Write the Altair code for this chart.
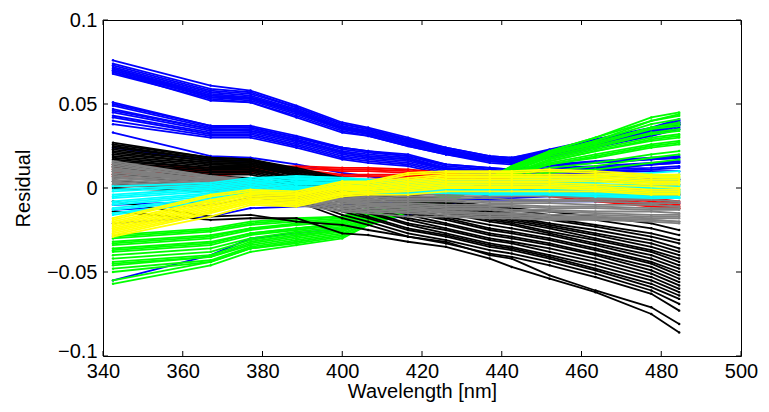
import altair as alt
import pandas as pd

# wavelengths (nm) of the residual points
W = [342.5, 367.0, 377.0, 388.5, 400.0, 406.5, 416.5, 426.0, 437.0, 442.5, 452.0, 463.5, 477.5, 484.5]

BLUE = [
    [0.076, 0.061, 0.058, 0.049, 0.039, 0.036, 0.030, 0.024, 0.019, 0.018, 0.023, 0.029, 0.036, 0.041],
    [0.074, 0.059, 0.057, 0.048, 0.038, 0.035, 0.029, 0.024, 0.019, 0.018, 0.022, 0.029, 0.035, 0.040],
    [0.073, 0.058, 0.056, 0.048, 0.038, 0.035, 0.029, 0.023, 0.018, 0.017, 0.022, 0.028, 0.035, 0.040],
    [0.072, 0.057, 0.055, 0.047, 0.037, 0.034, 0.028, 0.023, 0.018, 0.017, 0.021, 0.028, 0.034, 0.039],
    [0.071, 0.056, 0.054, 0.046, 0.036, 0.034, 0.028, 0.022, 0.017, 0.016, 0.021, 0.027, 0.034, 0.039],
    [0.071, 0.055, 0.054, 0.046, 0.036, 0.033, 0.027, 0.022, 0.017, 0.016, 0.020, 0.027, 0.033, 0.038],
    [0.070, 0.055, 0.053, 0.045, 0.036, 0.033, 0.027, 0.022, 0.017, 0.016, 0.020, 0.027, 0.033, 0.038],
    [0.070, 0.054, 0.053, 0.045, 0.035, 0.032, 0.026, 0.021, 0.016, 0.015, 0.020, 0.026, 0.033, 0.038],
    [0.069, 0.054, 0.052, 0.044, 0.035, 0.032, 0.026, 0.021, 0.016, 0.015, 0.019, 0.026, 0.032, 0.037],
    [0.068, 0.053, 0.051, 0.043, 0.034, 0.031, 0.025, 0.020, 0.015, 0.014, 0.019, 0.025, 0.031, 0.036],
    [0.069, 0.052, 0.051, 0.042, 0.033, 0.031, 0.025, 0.020, 0.016, 0.015, 0.018, 0.024, 0.031, 0.035],
    [0.051, 0.037, 0.037, 0.031, 0.024, 0.022, 0.020, 0.014, 0.012, 0.011, 0.014, 0.016, 0.018, 0.019],
    [0.050, 0.037, 0.036, 0.030, 0.024, 0.022, 0.019, 0.014, 0.012, 0.011, 0.014, 0.015, 0.017, 0.018],
    [0.049, 0.036, 0.036, 0.030, 0.023, 0.021, 0.019, 0.013, 0.011, 0.010, 0.013, 0.015, 0.017, 0.018],
    [0.047, 0.035, 0.035, 0.029, 0.022, 0.020, 0.018, 0.012, 0.010, 0.009, 0.012, 0.013, 0.015, 0.016],
    [0.046, 0.035, 0.034, 0.028, 0.021, 0.019, 0.017, 0.012, 0.010, 0.009, 0.011, 0.012, 0.014, 0.015],
    [0.045, 0.034, 0.034, 0.028, 0.021, 0.019, 0.017, 0.011, 0.009, 0.008, 0.011, 0.012, 0.014, 0.015],
    [0.043, 0.033, 0.033, 0.027, 0.020, 0.018, 0.016, 0.011, 0.009, 0.008, 0.010, 0.011, 0.012, 0.013],
    [0.042, 0.032, 0.032, 0.026, 0.019, 0.017, 0.015, 0.010, 0.008, 0.007, 0.009, 0.010, 0.011, 0.012],
    [0.040, 0.031, 0.031, 0.025, 0.018, 0.016, 0.014, 0.009, 0.007, 0.006, 0.008, 0.009, 0.010, 0.010],
    [0.038, 0.030, 0.030, 0.024, 0.017, 0.015, 0.013, 0.008, 0.006, 0.005, 0.007, 0.007, 0.006, 0.005],
    [0.033, 0.019, 0.018, 0.014, 0.009, 0.007, 0.004, 0.003, 0.002, 0.002, 0.003, 0.004, 0.005, 0.005],
    [0.024, 0.016, 0.016, 0.011, 0.006, 0.004, 0.001, 0.000, -0.001, -0.001, 0.000, 0.001, 0.002, 0.002],
    [-0.010, -0.008, -0.004, -0.002, -0.002, -0.003, -0.003, -0.003, -0.003, -0.003, -0.003, -0.003, -0.004, -0.004],
    [-0.013, -0.010, -0.006, -0.004, -0.004, -0.005, -0.006, -0.006, -0.007, -0.007, -0.008, -0.008, -0.009, -0.009],
    [-0.021, -0.017, -0.012, -0.011, -0.010, -0.009, -0.008, -0.007, -0.006, -0.006, -0.005, -0.005, -0.004, -0.004],
    [-0.055, -0.040, -0.030, -0.027, -0.024, -0.021, -0.016, -0.010, -0.004, 0.000, 0.005, 0.010, 0.014, 0.016],
]

GREEN = [
    [-0.028, -0.024, -0.020, -0.018, -0.017, -0.012, -0.008, -0.004, 0.001, 0.004, 0.009, 0.011, 0.015, 0.017],
    [-0.029, -0.025, -0.021, -0.019, -0.017, -0.012, -0.008, -0.004, 0.002, 0.005, 0.010, 0.013, 0.018, 0.020],
    [-0.030, -0.026, -0.022, -0.020, -0.018, -0.013, -0.009, -0.005, 0.002, 0.006, 0.012, 0.015, 0.020, 0.022],
    [-0.032, -0.028, -0.024, -0.021, -0.019, -0.014, -0.009, -0.005, 0.003, 0.007, 0.014, 0.018, 0.024, 0.026],
    [-0.033, -0.029, -0.024, -0.022, -0.020, -0.014, -0.010, -0.005, 0.003, 0.008, 0.014, 0.019, 0.025, 0.027],
    [-0.034, -0.030, -0.025, -0.022, -0.020, -0.015, -0.010, -0.006, 0.003, 0.008, 0.015, 0.020, 0.026, 0.028],
    [-0.036, -0.032, -0.027, -0.024, -0.021, -0.016, -0.011, -0.006, 0.004, 0.009, 0.016, 0.022, 0.028, 0.030],
    [-0.037, -0.033, -0.027, -0.024, -0.021, -0.016, -0.011, -0.006, 0.004, 0.009, 0.016, 0.022, 0.029, 0.031],
    [-0.038, -0.034, -0.028, -0.025, -0.022, -0.017, -0.012, -0.007, 0.004, 0.009, 0.017, 0.023, 0.030, 0.032],
    [-0.040, -0.036, -0.030, -0.026, -0.023, -0.018, -0.012, -0.007, 0.004, 0.010, 0.018, 0.024, 0.032, 0.034],
    [-0.042, -0.038, -0.031, -0.027, -0.024, -0.018, -0.013, -0.007, 0.005, 0.010, 0.019, 0.025, 0.033, 0.035],
    [-0.044, -0.040, -0.032, -0.028, -0.025, -0.019, -0.013, -0.008, 0.005, 0.011, 0.020, 0.026, 0.035, 0.037],
    [-0.045, -0.041, -0.033, -0.029, -0.025, -0.019, -0.013, -0.008, 0.005, 0.011, 0.020, 0.027, 0.036, 0.038],
    [-0.046, -0.041, -0.034, -0.030, -0.026, -0.020, -0.014, -0.008, 0.005, 0.011, 0.020, 0.027, 0.036, 0.039],
    [-0.048, -0.043, -0.035, -0.031, -0.027, -0.021, -0.014, -0.009, 0.006, 0.012, 0.021, 0.028, 0.038, 0.041],
    [-0.050, -0.044, -0.036, -0.032, -0.028, -0.021, -0.015, -0.009, 0.006, 0.013, 0.022, 0.030, 0.040, 0.043],
    [-0.055, -0.044, -0.036, -0.033, -0.029, -0.022, -0.015, -0.009, 0.006, 0.013, 0.022, 0.030, 0.042, 0.045],
    [-0.057, -0.046, -0.038, -0.034, -0.030, -0.022, -0.015, -0.010, 0.005, 0.012, 0.021, 0.028, 0.040, 0.044],
]

RED = [
    [0.014, 0.012, 0.012, 0.013, 0.012, 0.012, 0.011, 0.009, 0.006, 0.005, 0.000, -0.003, -0.006, -0.008],
    [0.012, 0.011, 0.011, 0.012, 0.011, 0.011, 0.010, 0.008, 0.005, 0.004, -0.001, -0.004, -0.007, -0.009],
    [0.011, 0.010, 0.010, 0.012, 0.010, 0.010, 0.009, 0.007, 0.004, 0.003, -0.002, -0.005, -0.008, -0.010],
    [0.009, 0.009, 0.010, 0.011, 0.008, 0.008, 0.008, 0.006, 0.003, 0.002, -0.003, -0.006, -0.009, -0.011],
    [0.008, 0.008, 0.009, 0.011, 0.007, 0.007, 0.007, 0.005, 0.002, 0.001, -0.004, -0.007, -0.010, -0.012],
    [0.007, 0.007, 0.009, 0.010, 0.005, 0.005, 0.006, 0.004, 0.001, 0.000, -0.005, -0.008, -0.011, -0.012],
]

BLACK = [
    [0.027, 0.018, 0.017, 0.012, 0.006, 0.003, -0.004, -0.007, -0.011, -0.012, -0.014, -0.017, -0.021, -0.025],
    [0.026, 0.018, 0.017, 0.011, 0.005, 0.002, -0.005, -0.008, -0.012, -0.013, -0.016, -0.019, -0.024, -0.028],
    [0.025, 0.017, 0.016, 0.011, 0.005, 0.002, -0.005, -0.009, -0.013, -0.015, -0.018, -0.022, -0.027, -0.031],
    [0.024, 0.017, 0.016, 0.010, 0.004, 0.001, -0.006, -0.009, -0.014, -0.016, -0.019, -0.023, -0.029, -0.033],
    [0.023, 0.016, 0.015, 0.010, 0.004, 0.001, -0.006, -0.010, -0.015, -0.017, -0.021, -0.025, -0.031, -0.036],
    [0.022, 0.016, 0.015, 0.009, 0.003, 0.000, -0.007, -0.011, -0.016, -0.018, -0.022, -0.027, -0.033, -0.038],
    [0.021, 0.015, 0.014, 0.009, 0.002, -0.001, -0.008, -0.012, -0.017, -0.019, -0.023, -0.028, -0.035, -0.040],
    [0.020, 0.015, 0.014, 0.008, 0.001, -0.002, -0.009, -0.013, -0.018, -0.020, -0.024, -0.030, -0.037, -0.042],
    [0.019, 0.014, 0.013, 0.008, 0.000, -0.003, -0.010, -0.014, -0.019, -0.021, -0.026, -0.031, -0.038, -0.044],
    [0.018, 0.013, 0.013, 0.007, -0.001, -0.004, -0.011, -0.015, -0.020, -0.022, -0.027, -0.033, -0.040, -0.046],
    [0.017, 0.012, 0.012, 0.006, -0.002, -0.006, -0.012, -0.017, -0.022, -0.024, -0.028, -0.034, -0.042, -0.048],
    [0.016, 0.012, 0.011, 0.006, -0.003, -0.007, -0.014, -0.018, -0.024, -0.026, -0.030, -0.036, -0.044, -0.050],
    [0.015, 0.011, 0.011, 0.005, -0.004, -0.008, -0.015, -0.019, -0.025, -0.027, -0.031, -0.037, -0.045, -0.052],
    [0.014, 0.010, 0.010, 0.004, -0.005, -0.009, -0.016, -0.021, -0.027, -0.029, -0.033, -0.039, -0.047, -0.054],
    [0.013, 0.009, 0.009, 0.003, -0.007, -0.011, -0.018, -0.022, -0.028, -0.030, -0.034, -0.040, -0.049, -0.056],
    [0.012, 0.008, 0.008, 0.002, -0.008, -0.012, -0.019, -0.024, -0.030, -0.032, -0.036, -0.042, -0.051, -0.058],
    [0.010, 0.007, 0.006, 0.001, -0.009, -0.014, -0.021, -0.025, -0.031, -0.033, -0.038, -0.044, -0.053, -0.060],
    [0.008, 0.005, 0.005, -0.001, -0.011, -0.015, -0.022, -0.027, -0.033, -0.035, -0.040, -0.046, -0.055, -0.062],
    [0.006, 0.004, 0.003, -0.002, -0.012, -0.017, -0.024, -0.028, -0.034, -0.036, -0.041, -0.048, -0.057, -0.064],
    [0.004, 0.002, 0.001, -0.004, -0.014, -0.018, -0.025, -0.029, -0.035, -0.037, -0.042, -0.049, -0.059, -0.066],
    [0.002, 0.000, -0.001, -0.006, -0.016, -0.020, -0.027, -0.031, -0.037, -0.039, -0.044, -0.051, -0.061, -0.069],
    [0.000, -0.002, -0.003, -0.008, -0.018, -0.022, -0.029, -0.033, -0.039, -0.041, -0.046, -0.053, -0.063, -0.073],
    [-0.014, -0.019, -0.018, -0.018, -0.027, -0.028, -0.032, -0.035, -0.042, -0.047, -0.054, -0.062, -0.075, -0.086],
    [-0.008, -0.017, -0.016, -0.020, -0.022, -0.025, -0.029, -0.032, -0.040, -0.042, -0.052, -0.061, -0.071, -0.081],
]

GRAY = [
    [0.016, 0.007, 0.005, 0.000, -0.003, -0.004, -0.002, -0.002, -0.002, -0.002, -0.002, -0.002, -0.001, -0.001],
    [0.015, 0.007, 0.005, -0.001, -0.004, -0.005, -0.003, -0.003, -0.003, -0.003, -0.003, -0.003, -0.003, -0.003],
    [0.014, 0.006, 0.004, -0.001, -0.004, -0.005, -0.004, -0.004, -0.004, -0.004, -0.004, -0.004, -0.004, -0.004],
    [0.013, 0.006, 0.004, -0.002, -0.005, -0.006, -0.005, -0.005, -0.005, -0.005, -0.005, -0.006, -0.006, -0.006],
    [0.012, 0.005, 0.003, -0.002, -0.006, -0.007, -0.006, -0.006, -0.006, -0.007, -0.007, -0.007, -0.007, -0.008],
    [0.011, 0.005, 0.003, -0.003, -0.006, -0.007, -0.007, -0.007, -0.008, -0.008, -0.008, -0.008, -0.009, -0.009],
    [0.010, 0.004, 0.002, -0.004, -0.007, -0.008, -0.008, -0.008, -0.009, -0.009, -0.009, -0.010, -0.010, -0.011],
    [0.009, 0.004, 0.001, -0.004, -0.008, -0.009, -0.009, -0.010, -0.010, -0.010, -0.011, -0.011, -0.012, -0.012],
    [0.008, 0.003, 0.001, -0.005, -0.008, -0.010, -0.010, -0.011, -0.011, -0.011, -0.012, -0.012, -0.013, -0.013],
    [0.007, 0.002, 0.000, -0.006, -0.009, -0.010, -0.011, -0.012, -0.012, -0.013, -0.013, -0.014, -0.014, -0.015],
    [0.006, 0.002, -0.001, -0.006, -0.010, -0.011, -0.012, -0.013, -0.013, -0.014, -0.014, -0.015, -0.016, -0.016],
    [0.005, 0.001, -0.002, -0.007, -0.011, -0.012, -0.013, -0.014, -0.015, -0.015, -0.016, -0.016, -0.017, -0.017],
    [0.004, 0.000, -0.003, -0.008, -0.012, -0.013, -0.014, -0.015, -0.016, -0.016, -0.017, -0.017, -0.018, -0.018],
    [0.003, -0.001, -0.004, -0.009, -0.013, -0.014, -0.015, -0.016, -0.017, -0.017, -0.018, -0.018, -0.019, -0.020],
    [0.002, -0.002, -0.005, -0.010, -0.014, -0.015, -0.017, -0.017, -0.018, -0.018, -0.019, -0.019, -0.020, -0.021],
    [0.011, 0.004, 0.002, -0.003, -0.007, -0.009, -0.012, -0.014, -0.015, -0.016, -0.017, -0.018, -0.019, -0.020],
]

CYAN = [
    [0.001, 0.003, 0.006, 0.007, 0.006, 0.005, 0.005, 0.005, 0.005, 0.005, 0.006, 0.007, 0.009, 0.010],
    [-0.001, 0.002, 0.005, 0.007, 0.006, 0.005, 0.004, 0.004, 0.004, 0.004, 0.005, 0.006, 0.007, 0.008],
    [-0.002, 0.001, 0.004, 0.006, 0.005, 0.004, 0.004, 0.004, 0.004, 0.004, 0.004, 0.004, 0.005, 0.006],
    [-0.004, 0.000, 0.003, 0.005, 0.005, 0.004, 0.003, 0.003, 0.003, 0.003, 0.003, 0.003, 0.004, 0.004],
    [-0.005, -0.001, 0.002, 0.005, 0.004, 0.003, 0.003, 0.003, 0.002, 0.002, 0.002, 0.002, 0.002, 0.002],
    [-0.006, -0.002, 0.001, 0.004, 0.003, 0.002, 0.002, 0.002, 0.002, 0.001, 0.001, 0.001, 0.001, 0.001],
    [-0.008, -0.003, 0.000, 0.003, 0.003, 0.002, 0.001, 0.001, 0.001, 0.001, 0.000, 0.000, 0.000, -0.001],
    [-0.009, -0.004, -0.001, 0.003, 0.002, 0.001, 0.001, 0.000, 0.000, 0.000, -0.001, -0.001, -0.002, -0.002],
    [-0.010, -0.005, -0.002, 0.002, 0.002, 0.000, 0.000, 0.000, -0.001, -0.001, -0.002, -0.002, -0.003, -0.003],
    [-0.012, -0.006, -0.002, 0.001, 0.001, 0.000, -0.001, -0.001, -0.002, -0.002, -0.003, -0.003, -0.004, -0.004],
    [-0.013, -0.007, -0.003, 0.001, 0.000, -0.001, -0.002, -0.002, -0.002, -0.003, -0.003, -0.004, -0.005, -0.005],
    [-0.015, -0.008, -0.004, 0.000, 0.000, -0.002, -0.002, -0.003, -0.003, -0.003, -0.004, -0.005, -0.005, -0.006],
    [-0.016, -0.008, -0.004, -0.001, -0.001, -0.003, -0.003, -0.003, -0.004, -0.004, -0.004, -0.005, -0.006, -0.006],
]

YELLOW = [
    [-0.018, -0.004, -0.001, -0.002, 0.004, 0.004, 0.009, 0.010, 0.010, 0.010, 0.011, 0.010, 0.008, 0.008],
    [-0.019, -0.005, -0.002, -0.003, 0.003, 0.003, 0.008, 0.009, 0.009, 0.009, 0.010, 0.009, 0.007, 0.007],
    [-0.020, -0.007, -0.003, -0.004, 0.002, 0.003, 0.006, 0.008, 0.008, 0.008, 0.008, 0.008, 0.006, 0.006],
    [-0.021, -0.008, -0.003, -0.004, 0.001, 0.002, 0.005, 0.007, 0.007, 0.007, 0.007, 0.007, 0.005, 0.005],
    [-0.022, -0.009, -0.004, -0.005, 0.001, 0.001, 0.004, 0.006, 0.006, 0.006, 0.006, 0.006, 0.004, 0.004],
    [-0.023, -0.010, -0.005, -0.006, 0.000, 0.000, 0.003, 0.005, 0.005, 0.005, 0.005, 0.005, 0.003, 0.003],
    [-0.024, -0.011, -0.006, -0.007, -0.001, -0.001, 0.002, 0.004, 0.004, 0.004, 0.004, 0.004, 0.002, 0.002],
    [-0.025, -0.012, -0.007, -0.008, -0.002, -0.001, 0.001, 0.003, 0.003, 0.003, 0.003, 0.002, 0.001, 0.000],
    [-0.026, -0.013, -0.008, -0.009, -0.003, -0.002, 0.000, 0.002, 0.002, 0.002, 0.002, 0.001, -0.001, -0.001],
    [-0.027, -0.014, -0.008, -0.009, -0.003, -0.003, -0.001, 0.001, 0.001, 0.001, 0.001, 0.000, -0.002, -0.002],
    [-0.028, -0.015, -0.009, -0.010, -0.004, -0.003, -0.002, 0.000, 0.000, 0.000, 0.000, -0.001, -0.003, -0.003],
    [-0.029, -0.017, -0.010, -0.011, -0.005, -0.004, -0.004, -0.002, -0.002, -0.002, -0.002, -0.002, -0.004, -0.004],
]

X_TICKS = [340, 360, 380, 400, 420, 440, 460, 480, 500]
Y_TICKS = [-0.1, -0.05, 0, 0.05, 0.1]

# drawing order (later groups on top)
GROUPS = [
    ("blue", "#0000ff", BLUE),
    ("green", "#00ff00", GREEN),
    ("red", "#ff0000", RED),
    ("black", "#000000", BLACK),
    ("gray", "#808080", GRAY),
    ("cyan", "#00ffff", CYAN),
    ("yellow", "#ffff00", YELLOW),
]

rows = []
for gname, _, lines in GROUPS:
    for i, vals in enumerate(lines):
        for w, v in zip(W, vals):
            rows.append({"g": gname, "id": f"{gname}{i}", "w": w, "r": v})
df = pd.DataFrame(rows)

PW, PH = 638, 336
FONT = "Liberation Sans"

x_scale = alt.Scale(domain=[340, 500], nice=False, zero=False)
y_scale = alt.Scale(domain=[-0.1, 0.1], nice=False, zero=False)
x_axis = alt.Axis(values=X_TICKS, format="d", title="Wavelength [nm]",
                  labelPadding=5, titlePadding=0, labelFlush=False)
y_axis = alt.Axis(values=Y_TICKS, format="~g", title="Residual",
                  labelPadding=6, titlePadding=13, labelFlush=False,
                  labelOffset=alt.condition("datum.value <= -0.1", alt.value(-5), alt.value(0)))

X = alt.X("w:Q", scale=x_scale, axis=x_axis)
Y = alt.Y("r:Q", scale=y_scale, axis=y_axis)

layers = []
for gname, color, _ in GROUPS:
    layers.append(
        alt.Chart(df)
        .transform_filter(alt.datum.g == gname)
        .mark_line(color=color, strokeWidth=1.8,
                   point=alt.OverlayMarkDef(color=color, filled=True, size=6))
        .encode(x=X, y=Y, detail="id:N")
    )

xt = pd.DataFrame({"w": X_TICKS})
yt = pd.DataFrame({"r": Y_TICKS})
tick_x_bottom = alt.Chart(xt).mark_rule(color="black", strokeWidth=1).encode(
    x=X, y=alt.value(PH), y2=alt.value(PH - 5))
tick_x_top = alt.Chart(xt).mark_rule(color="black", strokeWidth=1).encode(
    x=X, y=alt.value(0), y2=alt.value(5))
tick_y_left = alt.Chart(yt).mark_rule(color="black", strokeWidth=1).encode(
    y=Y, x=alt.value(0), x2=alt.value(5))
tick_y_right = alt.Chart(yt).mark_rule(color="black", strokeWidth=1).encode(
    y=Y, x=alt.value(PW), x2=alt.value(PW - 5))

chart = (
    alt.layer(*layers, tick_x_bottom, tick_x_top, tick_y_left, tick_y_right)
    .properties(width=PW, height=PH,
                autosize=alt.AutoSizeParams(type="none"),
                padding={"left": 103, "top": 20, "right": 28, "bottom": 56})
    .configure_view(stroke="black", strokeWidth=1)
    .configure_axis(domain=False, ticks=False, grid=False,
                    labelFont=FONT, labelFontSize=20, labelColor="black",
                    titleFont=FONT, titleFontSize=20, titleFontWeight="normal",
                    titleColor="black")
)

chart.save("out.html", embed_options={"renderer": "svg", "actions": False})
